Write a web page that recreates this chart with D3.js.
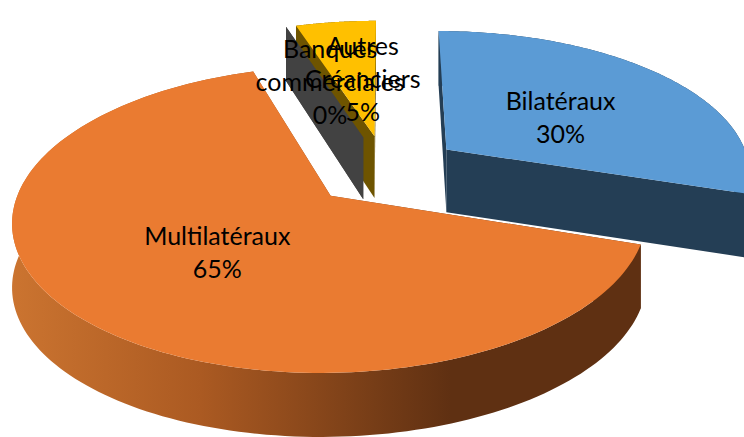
<!DOCTYPE html>
<html>
<head>
<meta charset="utf-8">
<script src="https://cdn.jsdelivr.net/npm/d3@7/dist/d3.min.js"></script>
<style>
  html, body { margin: 0; padding: 0; background: #fff; overflow: hidden; }
  svg { display: block; }
</style>
</head>
<body>
<script>
var categories = [["Bilatéraux"], ["Multilatéraux"], ["Banques", "commerciales"], ["Autres", "Créanciers"]];
var values = [30, 65, 0, 5];
var percentLabels = ["30%", "65%", "0%", "5%"];

var topColors = ["#5b9bd5", "#ea7b31", "#4a4a4a", "#ffc000"];
var wallColors = ["#243e55", "url(#orangeWall)", "#424242", "#6e5400"];
var drawOrder = [3, 2, 0, 1];

var svgWidth = 744, svgHeight = 437;
var explode = 0.25, perspective = 0.15, wallHeight = 64;

// small label shifts from the projected slice centre
var labelNudge = [[1, 7], [7, 2], [8, 4], [9, 5]];

var svg = d3.select("body").append("svg").attr("width", svgWidth).attr("height", svgHeight);

// disc coordinates to screen, before the perspective is applied
var xScale = d3.scaleLinear().domain([-1, 1]).range([81, 691]);
var yScale = d3.scaleLinear().domain([-1, 1]).range([312, 28]);

var grad = svg.append("defs").append("linearGradient")
    .attr("id", "orangeWall")
    .attr("gradientUnits", "userSpaceOnUse")
    .attr("x1", 12).attr("x2", 640).attr("y1", 0).attr("y2", 0);
grad.append("stop").attr("offset", "0").attr("stop-color", "#cb7430");
grad.append("stop").attr("offset", "0.3").attr("stop-color", "#ab5a22");
grad.append("stop").attr("offset", "0.7").attr("stop-color", "#5f3012");
grad.append("stop").attr("offset", "1").attr("stop-color", "#5f3012");

var pie = d3.pie().sort(null).value(function(d) { return d; });
var slices = pie(values);

function depth(v) { return 1 / (1 + perspective * v); }

// point of slice d at radius f and angle a, exploded outwards
function project(d, f, a, drop) {
  var mid = (d.startAngle + d.endAngle) / 2;
  var u = explode * Math.sin(mid) + f * Math.sin(a);
  var v = explode * Math.cos(mid) + f * Math.cos(a);
  var s = depth(v);
  return [xScale(u * s), yScale(v * s) + (drop ? wallHeight * Math.min(1, s) : 0)];
}

var line = d3.line();

function rim(d, drop) {
  var n = 160;
  return d3.range(n + 1).map(function(i) {
    return project(d, 1, d.startAngle + (d.endAngle - d.startAngle) * i / n, drop);
  });
}

function sideFace(d, a) {
  return line([project(d, 0, a, false), project(d, 1, a, false), project(d, 1, a, true), project(d, 0, a, true)]) + "Z";
}

var chartGroup = svg.append("g");

drawOrder.forEach(function(i) {
  var d = slices[i];
  var g = chartGroup.append("g").attr("class", "slice");

  g.append("path").attr("d", sideFace(d, d.startAngle)).attr("fill", wallColors[i]);
  g.append("path").attr("d", sideFace(d, d.endAngle)).attr("fill", wallColors[i]);

  g.append("path")
      .attr("d", line(rim(d, false).concat(rim(d, true).reverse())) + "Z")
      .attr("fill", wallColors[i]);

  if (d.endAngle > d.startAngle) {
    g.append("path")
        .attr("d", line([project(d, 0, d.startAngle, false)].concat(rim(d, false))) + "Z")
        .attr("fill", topColors[i]);
  }
});

slices.forEach(function(d, i) {
  var mid = (d.startAngle + d.endAngle) / 2;
  var p = project(d, 0.5, mid, false);
  var lines = categories[i].concat(percentLabels[i]);
  var t = chartGroup.append("text")
      .attr("text-anchor", "middle")
      .attr("font-family", "Lato, sans-serif")
      .attr("font-size", "25px")
      .attr("fill", "#000");
  lines.forEach(function(s, k) {
    t.append("tspan")
        .attr("x", p[0] + labelNudge[i][0])
        .attr("y", p[1] + labelNudge[i][1] + 8 + (k - (lines.length - 1) / 2) * 33)
        .text(s);
  });
});
</script>
</body>
</html>
